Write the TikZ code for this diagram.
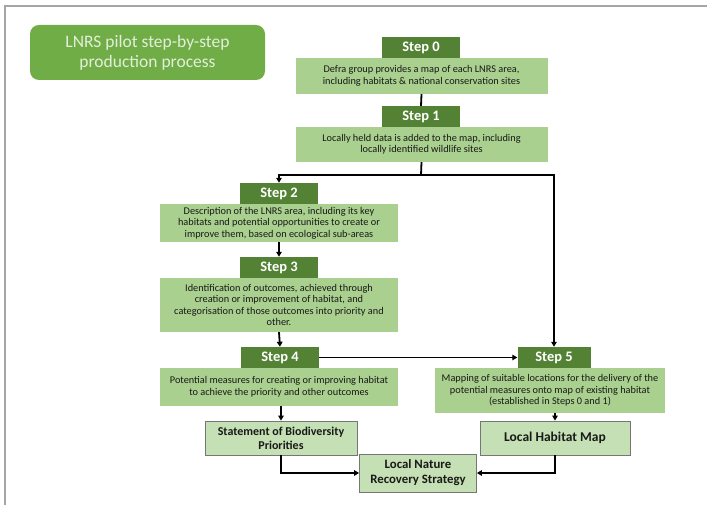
\documentclass[tikz,border=0pt]{standalone}
\usepackage{fontspec}
\setmainfont{Carlito}
\usepackage{tikz}
\usetikzlibrary{arrows.meta}
\usetikzlibrary{positioning}
\definecolor{fern}{RGB}{112, 173, 71}
\definecolor{moss}{RGB}{84, 130, 53}
\definecolor{sage}{RGB}{169, 208, 142}
\definecolor{mint}{RGB}{197, 224, 180}
\definecolor{honeydew}{RGB}{226, 239, 218}
\definecolor{ash}{RGB}{118, 118, 118}
\definecolor{silver}{RGB}{165, 165, 165}

\tikzset{
  stephead/.style={fill=moss, text=white, font=\fontsize{14.5}{16}\selectfont\bfseries,
                   minimum width=78pt, minimum height=21pt, inner sep=0pt},
  stepbody/.style={fill=sage, text=black!90, font=\fontsize{10.3}{11.5}\selectfont,
                   align=center, inner sep=0pt},
  outcome/.style={fill=mint, draw=ash, line width=0.8pt, text=black!90,
                  font=\fontsize{12}{14}\selectfont\bfseries, align=center, inner sep=0pt},
  link/.style={line width=1.8pt},
  flow/.style={link, -{Triangle[length=5pt,width=5.5pt]}},
}

\begin{document}
\begin{tikzpicture}[x=1pt, y=-1pt]
    \useasboundingbox (0,0) rectangle (707,505);
    \draw[silver, line width=1.2pt] (5,505) |- (707,6);
    % title
    \node[fill=fern, rounded corners=9pt, minimum width=235pt, minimum height=55pt, inner sep=0pt,
          text=honeydew, font=\fontsize{17.5}{20}\selectfont, align=center]
         (title) at (147.5, 52.5) {LNRS pilot step-by-step\\production process};
    % steps 0 and 1
    \node[stephead]                                      (h0) at (421.0, 47.5) {Step 0};
    \node[stepbody, minimum width=252pt, minimum height=36pt] (b0) at (421.5, 76.0)
         {Defra group provides a map of each LNRS area,\\including habitats \& national conservation sites};
    \node[stephead]                                      (h1) at (421.0,116.5) {Step 1};
    \node[stepbody, minimum width=252pt, minimum height=35pt] (b1) at (421.5,144.5)
         {Locally held data is added to the map, including\\locally identified wildlife sites};
    % left column
    \node[stephead]                                      (h2) at (279.0,193.5) {Step 2};
    \node[stepbody, minimum width=238pt, minimum height=38pt] (b2) at (279.0,223.0)
         {Description of the LNRS area, including its key\\habitats and potential opportunities to create or\\improve them, based on ecological sub-areas};
    \node[stephead]                                      (h3) at (279.0,267.5) {Step 3};
    \node[stepbody, minimum width=238pt, minimum height=54pt] (b3) at (279.0,305.0)
         {Identification of outcomes, achieved through\\creation or improvement of habitat, and\\categorisation of those outcomes into priority and\\other.};
    \node[stephead]                                      (h4) at (280.0,357.5) {Step 4};
    \node[stepbody, minimum width=238pt, minimum height=38pt] (b4) at (279.0,387.0)
         {Potential measures for creating or improving habitat\\to achieve the priority and other outcomes};
    % right column
    \node[stephead, minimum width=73pt]                  (h5) at (554.0,357.5) {Step 5};
    \node[stepbody, minimum width=230pt, minimum height=45pt] (b5) at (550.0,390.5)
         {Mapping of suitable locations for the delivery of the\\potential measures onto map of existing habitat\\(established in Steps 0 and 1)};
    % outcomes
    \node[outcome, minimum width=152pt, minimum height=34pt] (sbp)  at (281.0,438.0)
         {Statement of Biodiversity\\Priorities};
    \node[outcome, minimum width=150pt, minimum height=34pt,
          font=\fontsize{13.5}{15}\selectfont\bfseries]      (lhm)  at (555.0,438.0) {Local Habitat Map};
    \node[outcome, minimum width=117pt, minimum height=38pt,
          font=\fontsize{12.8}{15}\selectfont\bfseries]      (lnrs) at (418.0,473.0)
         {Local Nature\\Recovery Strategy};
    % connectors
    \coordinate (split) at (421,175);
    \draw[link] (b0.south) -- (h1.north);
    \draw[link] (b1.south) -- (split);
    \draw[flow] (split) -| (h2.north);
    \draw[flow] (split) -| (h5.north);
    \draw[flow] (b2.south) -- (h3.north);
    \draw[flow] (b3.south) -- (h4.north);
    \draw[flow] (h4.east)  -- (h5.west);
    \draw[flow] (b4.south -| sbp.north) -- (sbp.north);
    \draw[flow] (b5.south -| lhm.north) -- (lhm.north);
    \draw[flow] (sbp.south) |- (lnrs.west);
    \draw[flow] (lhm.south) |- (lnrs.east);
\end{tikzpicture}
\end{document}
